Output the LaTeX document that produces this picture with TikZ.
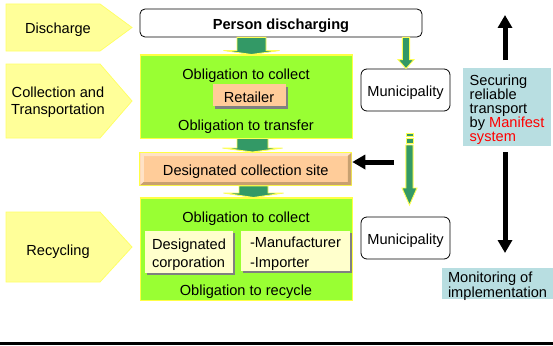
\documentclass[tikz,border=0pt]{standalone}
\usepackage{fontspec}
\setmainfont{Liberation Sans}
\usetikzlibrary{arrows.meta,calc,shadows}
\definecolor{pentfill}{HTML}{FFFF99}
\definecolor{pentrim}{HTML}{FFFF66}
\definecolor{lime}{HTML}{99FF33}
\definecolor{limerim}{HTML}{FFFF44}
\definecolor{gdark}{HTML}{339966}
\definecolor{arrim}{HTML}{FFFF55}
\definecolor{peach}{HTML}{FFCC99}
\definecolor{peachlt}{HTML}{FFE2C6}
\definecolor{peachdk}{HTML}{C8A070}
\definecolor{cream}{HTML}{FFFFCC}
\definecolor{cyanbox}{HTML}{B8DEE1}
\definecolor{shade}{HTML}{808080}
\definecolor{redtxt}{HTML}{FF0000}
\begin{document}
\begin{tikzpicture}[x=1pt,y=-1pt,
  every node/.style={font=\fontsize{14.6}{17}\selectfont, inner sep=0pt},
  txt/.style={yshift=-2.5pt},
  intext/.style n args={2}{label={[yshift=-2.5pt, align=left, font=\fontsize{14.6}{#2}\selectfont]center:#1}},
  pent/.style={fill=pentfill, draw=pentrim, line width=0.8pt},
  wbox/.style={draw=black, fill=white, rounded corners=5pt, line width=0.8pt},
  gbox/.style={fill=lime, draw=limerim, line width=1pt},
  pbox/.style={fill=peach, drop shadow={shadow xshift=2.5pt, shadow yshift=-2.5pt, fill=shade, opacity=1}},
  cbox/.style={fill=cream, drop shadow={shadow xshift=2pt, shadow yshift=-2pt, fill=shade, opacity=1}},
  tbox/.style={fill=cyanbox},
  barr/.style={line width=5pt, -{Triangle[width=14pt,length=13pt]}},
  garr/.style n args={3}{draw=arrim, fill=gdark, line width=0.9pt, line join=miter,
    to path={let \p1=(\tikztostart), \p2=(\tikztotarget) in
      ({\x1-#1},\y1) -- ({\x1-#1},{\y2+#3}) -- ({\x1-#2},{\y2+#3}) -- (\x1,\y2)
      -- ({\x1+#2},{\y2+#3}) -- ({\x1+#1},{\y2+#3}) -- ({\x1+#1},\y1) -- cycle}},
  gbar/.style={draw=arrim, fill=gdark, line width=0.9pt}
]
\useasboundingbox (0,0) rectangle (553,345);

% left stage arrows
\path[pent] (6,4) -- (100,4) -- (132,27.5) -- (100,51) -- (6,51) -- cycle;
\node[txt] (discharge) at (58,27) {Discharge};
\path[pent] (6,64) -- (100,64) -- (132,101) -- (100,138) -- (6,138) -- cycle;
\node[txt, align=center] (coltrans) at (58,100) {Collection and\\Transportation};
\path[pent] (6,212) -- (100,212) -- (132,247) -- (100,282) -- (6,282) -- cycle;
\node[txt] (recycling) at (58,249) {Recycling};

% main column boxes
\node[wbox, minimum width=282pt, minimum height=28pt] (person) at (281,23) {};
\node[txt, font=\fontsize{14.6}{17}\selectfont\bfseries] (persontext) at (person.center) {Person discharging};
\node[gbox, minimum width=212pt, minimum height=83pt] (col) at (246,96.5) {};
\node[fill=peach, draw=limerim, line width=1pt, minimum width=212pt, minimum height=33pt] (dcs) at (245.75,169) {};
\node[gbox, minimum width=212pt, minimum height=102pt] (rec) at (246,249) {};

% green block arrows
\coordinate (ga1) at (251.5,0);
\coordinate (ga2) at (252.5,0);
\coordinate (ga3) at (253.5,0);
\draw[garr={14.5pt}{28pt}{4pt}] (person.south -| ga1) to (col.north -| ga1);
\draw[garr={15.5pt}{30pt}{4pt}] (col.south -| ga2) to (dcs.north -| ga2);
\draw[garr={14.5pt}{30pt}{4.5pt}] (dcs.south -| ga3) to (rec.north -| ga3);

% redraw the boxes' rims over arrow tips
\draw[draw=limerim, line width=1pt] (col.north west) -- (col.north east);
\draw[draw=limerim, line width=1pt] (rec.north west) -- (rec.north east);

% bevel of designated collection site
\fill[peachlt] ($(dcs.north west)+(1,1)$) -- ($(dcs.north east)+(-1,1)$) -- ($(dcs.north east)+(-4.5,4)$)
  -- ($(dcs.north west)+(4.5,4)$) -- ($(dcs.south west)+(4.5,-4)$) -- ($(dcs.south west)+(1,-1)$) -- cycle;
\fill[peachdk] ($(dcs.north east)+(-1,1)$) -- ($(dcs.south east)+(-1,-1)$) -- ($(dcs.south west)+(1,-1)$)
  -- ($(dcs.south west)+(4.5,-4)$) -- ($(dcs.south east)+(-4.5,-4)$) -- ($(dcs.north east)+(-4.5,4)$) -- cycle;
\node[txt] (dcstext) at (dcs.center) {Designated collection site};

% texts in green boxes
\node[txt] (oc1) at (246,73) {Obligation to collect};
\node[pbox, minimum width=73pt, minimum height=22pt, intext={Retailer}{17}] (retailer) at (249,95) {};
\node[txt] (ot1) at (246,124) {Obligation to transfer};
\node[txt] (oc2) at (246,216) {Obligation to collect};
\node[cbox, minimum width=88pt, minimum height=42pt, intext={Designated\\corporation}{18}] (dcorp) at (189,252) {};
\node[cbox, minimum width=109pt, minimum height=40pt, intext={-Manufacturer\\-Importer}{20}] (manu) at (295.5,251) {};
\node[txt] (or2) at (246,289) {Obligation to recycle};

% municipalities
\node[wbox, rounded corners=6pt, minimum width=89pt, minimum height=42pt, intext={Municipality}{17}] (mun1) at (405.5,90) {};
\node[wbox, rounded corners=6pt, minimum width=89pt, minimum height=42pt, intext={Municipality}{17}] (mun2) at (405.5,238) {};

% small green arrows
\coordinate (ga4) at (406,0);
\draw[garr={3.6pt}{8pt}{9pt}] (person.south -| ga4) to (mun1.north -| ga4);
\fill[gbar] (406,133) rectangle (413,136);
\fill[gbar] (406,138.5) rectangle (413,143);
\coordinate (gs2) at (409.5,145);
\coordinate (ge2) at (409.5,205);
\draw[garr={3.6pt}{7.5pt}{17pt}] (gs2) to (ge2);

% black arrows
\coordinate (lb) at (394,162);
\draw[barr] (lb) -- (lb -| dcs.east);
\coordinate (up1) at (505,60);
\coordinate (up2) at (505,15);
\draw[barr] (up1) -- (up2);
\coordinate (dn1) at (505,152);
\coordinate (dn2) at (505,253);
\draw[barr] (dn1) -- (dn2);

% side text boxes
\node[tbox, minimum width=88pt, minimum height=78pt,
  intext={Securing\\reliable\\transport\\by \textcolor{redtxt}{Manifest}\\\textcolor{redtxt}{system}}{14}] (secure) at (507,107) {};
\node[tbox, minimum width=111pt, minimum height=31pt,
  intext={Monitoring of\\implementation}{12}] (monitor) at (497.5,283.5) {};

% bottom rule
\draw[line width=3pt] (0,343.5) -- (553,343.5);
\end{tikzpicture}
\end{document}
